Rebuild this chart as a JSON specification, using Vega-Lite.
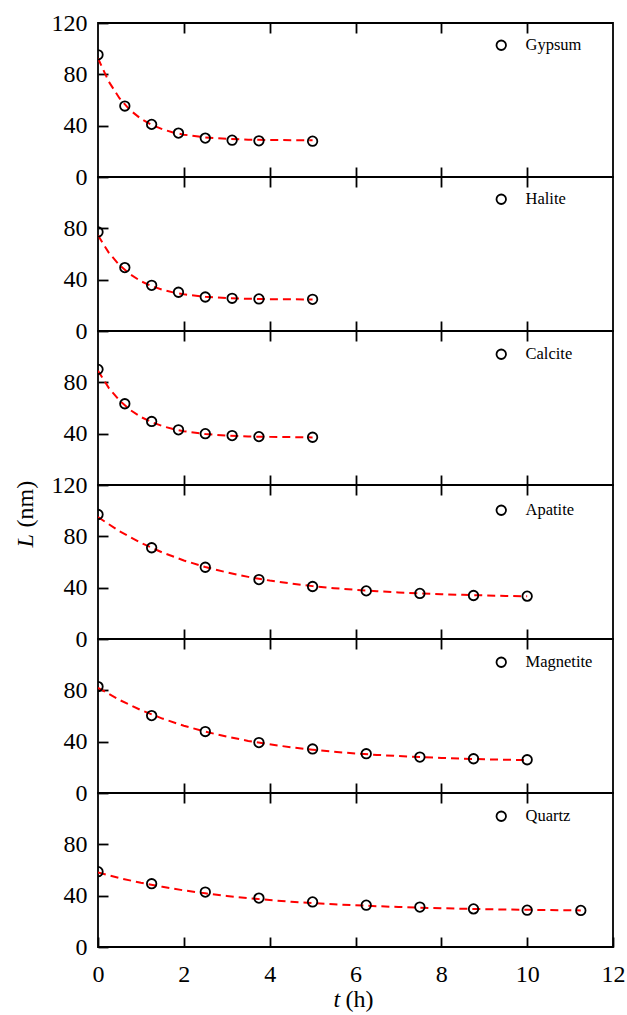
{
  "$schema": "https://vega.github.io/schema/vega-lite/v6.json",
  "autosize": {"type": "pad"},
  "padding": {"left": 12, "top": 10, "right": 0, "bottom": 0},
  "background": "white",
  "spacing": 0,
  "bounds": "flush",
  "config": {
    "view": {"stroke": "black", "strokeWidth": 1.8},
    "axis": {"grid": false, "domain": false, "tickColor": "black", "tickWidth": 1.8, "tickSize": -10,
      "labelFont": "Liberation Serif", "labelFontSize": 24, "labelColor": "black", "labelFlush": false,
      "titleFont": "Liberation Serif", "titleFontSize": 24, "titleColor": "black", "titleFontWeight": "normal"},
    "legend": {"orient": "none", "legendX": 395, "title": null, "labelFont": "Liberation Serif", "labelFontSize": 16.5,
      "labelColor": "black", "labelOffset": 16, "padding": 0, "symbolType": "circle", "symbolSize": 90,
      "symbolStrokeWidth": 1.8, "symbolStrokeColor": "black", "symbolFillColor": "transparent"}
  },
  "resolve": {"scale": {"stroke": "independent"}, "legend": {"stroke": "independent"}},
  "datasets": {
    "pts": [
      {"mineral": "Gypsum", "t": 0, "L": 95.2}, {"mineral": "Gypsum", "t": 0.625, "L": 55.3}, {"mineral": "Gypsum", "t": 1.25, "L": 41},
      {"mineral": "Gypsum", "t": 1.875, "L": 34.2}, {"mineral": "Gypsum", "t": 2.5, "L": 30.3}, {"mineral": "Gypsum", "t": 3.125, "L": 28.7},
      {"mineral": "Gypsum", "t": 3.75, "L": 28.2}, {"mineral": "Gypsum", "t": 5, "L": 27.9},
      {"mineral": "Halite", "t": 0, "L": 77.2}, {"mineral": "Halite", "t": 0.625, "L": 49.4}, {"mineral": "Halite", "t": 1.25, "L": 35.6},
      {"mineral": "Halite", "t": 1.875, "L": 30.2}, {"mineral": "Halite", "t": 2.5, "L": 26.5}, {"mineral": "Halite", "t": 3.125, "L": 25.5},
      {"mineral": "Halite", "t": 3.75, "L": 25}, {"mineral": "Halite", "t": 5, "L": 24.7},
      {"mineral": "Calcite", "t": 0, "L": 90.1}, {"mineral": "Calcite", "t": 0.625, "L": 63.3}, {"mineral": "Calcite", "t": 1.25, "L": 49.5},
      {"mineral": "Calcite", "t": 1.875, "L": 43}, {"mineral": "Calcite", "t": 2.5, "L": 40}, {"mineral": "Calcite", "t": 3.125, "L": 38.5},
      {"mineral": "Calcite", "t": 3.75, "L": 37.7}, {"mineral": "Calcite", "t": 5, "L": 37.2},
      {"mineral": "Apatite", "t": 0, "L": 97}, {"mineral": "Apatite", "t": 1.25, "L": 71.1}, {"mineral": "Apatite", "t": 2.5, "L": 55.9},
      {"mineral": "Apatite", "t": 3.75, "L": 46.3}, {"mineral": "Apatite", "t": 5, "L": 40.9}, {"mineral": "Apatite", "t": 6.25, "L": 37.5},
      {"mineral": "Apatite", "t": 7.5, "L": 35.5}, {"mineral": "Apatite", "t": 8.75, "L": 33.9}, {"mineral": "Apatite", "t": 10, "L": 33.4},
      {"mineral": "Magnetite", "t": 0, "L": 82.9}, {"mineral": "Magnetite", "t": 1.25, "L": 60.3}, {"mineral": "Magnetite", "t": 2.5, "L": 47.9},
      {"mineral": "Magnetite", "t": 3.75, "L": 39.3}, {"mineral": "Magnetite", "t": 5, "L": 34.3}, {"mineral": "Magnetite", "t": 6.25, "L": 30.6},
      {"mineral": "Magnetite", "t": 7.5, "L": 28}, {"mineral": "Magnetite", "t": 8.75, "L": 26.7}, {"mineral": "Magnetite", "t": 10, "L": 25.9},
      {"mineral": "Quartz", "t": 0, "L": 58.7}, {"mineral": "Quartz", "t": 1.25, "L": 49.3}, {"mineral": "Quartz", "t": 2.5, "L": 42.8},
      {"mineral": "Quartz", "t": 3.75, "L": 38.1}, {"mineral": "Quartz", "t": 5, "L": 35.1}, {"mineral": "Quartz", "t": 6.25, "L": 32.6},
      {"mineral": "Quartz", "t": 7.5, "L": 31.1}, {"mineral": "Quartz", "t": 8.75, "L": 29.7}, {"mineral": "Quartz", "t": 10, "L": 28.7},
      {"mineral": "Quartz", "t": 11.25, "L": 28.5}
    ],
    "fit": [
      {"mineral": "Gypsum", "t": 0, "L": 92.5}, {"mineral": "Gypsum", "t": 0.25, "L": 74.4}, {"mineral": "Gypsum", "t": 0.5, "L": 61.4},
      {"mineral": "Gypsum", "t": 0.75, "L": 52.0}, {"mineral": "Gypsum", "t": 1.0, "L": 45.4}, {"mineral": "Gypsum", "t": 1.25, "L": 40.6},
      {"mineral": "Gypsum", "t": 1.5, "L": 37.2}, {"mineral": "Gypsum", "t": 1.75, "L": 34.7}, {"mineral": "Gypsum", "t": 2.0, "L": 33.0},
      {"mineral": "Gypsum", "t": 2.5, "L": 30.8}, {"mineral": "Gypsum", "t": 3.0, "L": 29.7}, {"mineral": "Gypsum", "t": 3.5, "L": 29.1},
      {"mineral": "Gypsum", "t": 4.0, "L": 28.8}, {"mineral": "Gypsum", "t": 4.5, "L": 28.7}, {"mineral": "Gypsum", "t": 5.0, "L": 28.6},
      {"mineral": "Halite", "t": 0, "L": 74.5}, {"mineral": "Halite", "t": 0.25, "L": 61.1}, {"mineral": "Halite", "t": 0.5, "L": 51.3},
      {"mineral": "Halite", "t": 0.75, "L": 44.1}, {"mineral": "Halite", "t": 1.0, "L": 38.8}, {"mineral": "Halite", "t": 1.25, "L": 35.0},
      {"mineral": "Halite", "t": 1.5, "L": 32.2}, {"mineral": "Halite", "t": 1.75, "L": 30.1}, {"mineral": "Halite", "t": 2.0, "L": 28.6},
      {"mineral": "Halite", "t": 2.5, "L": 26.7}, {"mineral": "Halite", "t": 3.0, "L": 25.7}, {"mineral": "Halite", "t": 3.5, "L": 25.1},
      {"mineral": "Halite", "t": 4.0, "L": 24.8}, {"mineral": "Halite", "t": 4.5, "L": 24.7}, {"mineral": "Halite", "t": 5.0, "L": 24.6},
      {"mineral": "Calcite", "t": 0, "L": 89.0}, {"mineral": "Calcite", "t": 0.25, "L": 75.7}, {"mineral": "Calcite", "t": 0.5, "L": 65.9},
      {"mineral": "Calcite", "t": 0.75, "L": 58.5}, {"mineral": "Calcite", "t": 1.0, "L": 53.0}, {"mineral": "Calcite", "t": 1.25, "L": 49.0},
      {"mineral": "Calcite", "t": 1.5, "L": 45.9}, {"mineral": "Calcite", "t": 1.75, "L": 43.6}, {"mineral": "Calcite", "t": 2.0, "L": 41.9},
      {"mineral": "Calcite", "t": 2.5, "L": 39.7}, {"mineral": "Calcite", "t": 3.0, "L": 38.5}, {"mineral": "Calcite", "t": 3.5, "L": 37.8},
      {"mineral": "Calcite", "t": 4.0, "L": 37.5}, {"mineral": "Calcite", "t": 4.5, "L": 37.3}, {"mineral": "Calcite", "t": 5.0, "L": 37.1},
      {"mineral": "Apatite", "t": 0, "L": 95.0}, {"mineral": "Apatite", "t": 0.5, "L": 84.0}, {"mineral": "Apatite", "t": 1.0, "L": 74.9},
      {"mineral": "Apatite", "t": 1.5, "L": 67.4}, {"mineral": "Apatite", "t": 2.0, "L": 61.2}, {"mineral": "Apatite", "t": 2.5, "L": 56.1},
      {"mineral": "Apatite", "t": 3.0, "L": 51.9}, {"mineral": "Apatite", "t": 3.5, "L": 48.4}, {"mineral": "Apatite", "t": 4.0, "L": 45.5},
      {"mineral": "Apatite", "t": 4.5, "L": 43.2}, {"mineral": "Apatite", "t": 5.0, "L": 41.2}, {"mineral": "Apatite", "t": 5.5, "L": 39.6},
      {"mineral": "Apatite", "t": 6.0, "L": 38.3}, {"mineral": "Apatite", "t": 6.5, "L": 37.2}, {"mineral": "Apatite", "t": 7.0, "L": 36.3},
      {"mineral": "Apatite", "t": 7.5, "L": 35.5}, {"mineral": "Apatite", "t": 8.0, "L": 34.9}, {"mineral": "Apatite", "t": 8.5, "L": 34.4},
      {"mineral": "Apatite", "t": 9.0, "L": 34.0}, {"mineral": "Apatite", "t": 9.5, "L": 33.6}, {"mineral": "Apatite", "t": 10.0, "L": 33.3},
      {"mineral": "Magnetite", "t": 0, "L": 82.0}, {"mineral": "Magnetite", "t": 0.5, "L": 72.5}, {"mineral": "Magnetite", "t": 1.0, "L": 64.6},
      {"mineral": "Magnetite", "t": 1.5, "L": 58.0}, {"mineral": "Magnetite", "t": 2.0, "L": 52.4}, {"mineral": "Magnetite", "t": 2.5, "L": 47.8},
      {"mineral": "Magnetite", "t": 3.0, "L": 43.9}, {"mineral": "Magnetite", "t": 3.5, "L": 40.6}, {"mineral": "Magnetite", "t": 4.0, "L": 37.9},
      {"mineral": "Magnetite", "t": 4.5, "L": 35.6}, {"mineral": "Magnetite", "t": 5.0, "L": 33.7}, {"mineral": "Magnetite", "t": 5.5, "L": 32.1},
      {"mineral": "Magnetite", "t": 6.0, "L": 30.8}, {"mineral": "Magnetite", "t": 6.5, "L": 29.7}, {"mineral": "Magnetite", "t": 7.0, "L": 28.8},
      {"mineral": "Magnetite", "t": 7.5, "L": 28.0}, {"mineral": "Magnetite", "t": 8.0, "L": 27.3}, {"mineral": "Magnetite", "t": 8.5, "L": 26.8},
      {"mineral": "Magnetite", "t": 9.0, "L": 26.3}, {"mineral": "Magnetite", "t": 9.5, "L": 25.9}, {"mineral": "Magnetite", "t": 10.0, "L": 25.6},
      {"mineral": "Quartz", "t": 0, "L": 58.0}, {"mineral": "Quartz", "t": 0.5, "L": 53.7}, {"mineral": "Quartz", "t": 1.0, "L": 50.0},
      {"mineral": "Quartz", "t": 1.5, "L": 46.9}, {"mineral": "Quartz", "t": 2.0, "L": 44.1}, {"mineral": "Quartz", "t": 2.5, "L": 41.8},
      {"mineral": "Quartz", "t": 3.0, "L": 39.8}, {"mineral": "Quartz", "t": 3.5, "L": 38.1}, {"mineral": "Quartz", "t": 4.0, "L": 36.6},
      {"mineral": "Quartz", "t": 4.5, "L": 35.3}, {"mineral": "Quartz", "t": 5.0, "L": 34.2}, {"mineral": "Quartz", "t": 5.5, "L": 33.3},
      {"mineral": "Quartz", "t": 6.0, "L": 32.5}, {"mineral": "Quartz", "t": 6.5, "L": 31.8}, {"mineral": "Quartz", "t": 7.0, "L": 31.2},
      {"mineral": "Quartz", "t": 7.5, "L": 30.6}, {"mineral": "Quartz", "t": 8.0, "L": 30.2}, {"mineral": "Quartz", "t": 8.5, "L": 29.8},
      {"mineral": "Quartz", "t": 9.0, "L": 29.5}, {"mineral": "Quartz", "t": 9.5, "L": 29.2}, {"mineral": "Quartz", "t": 10.0, "L": 29.0},
      {"mineral": "Quartz", "t": 10.5, "L": 28.8}, {"mineral": "Quartz", "t": 11.0, "L": 28.6}, {"mineral": "Quartz", "t": 11.25, "L": 28.5}
    ]
  },
  "vconcat": [
    {
      "width": 515, "height": 154,
      "resolve": {"axis": {"x": "independent"}},
      "layer": [
        {"data": {"name": "fit"}, "transform": [{"filter": "datum.mineral === 'Gypsum'"}],
         "mark": {"type": "line", "color": "#ff0000", "strokeDash": [8, 5], "strokeWidth": 2, "clip": true},
         "encoding": {
           "x": {"field": "t", "type": "quantitative", "scale": {"domain": [0, 12]}, "axis": {"orient": "bottom", "values": [2, 4, 6, 8, 10], "labels": false, "title": null}},
           "y": {"field": "L", "type": "quantitative", "scale": {"domain": [0, 120]}, "axis": {"orient": "left", "values": [0, 40, 80, 120], "labelPadding": 21, "title": null}}}},
        {"data": {"name": "pts"}, "transform": [{"filter": "datum.mineral === 'Gypsum'"}],
         "mark": {"type": "point", "shape": "circle", "filled": false, "size": 90, "strokeWidth": 1.8, "opacity": 1, "clip": true},
         "encoding": {
           "x": {"field": "t", "type": "quantitative", "scale": {"domain": [0, 12]}, "axis": {"orient": "top", "values": [2, 4, 6, 8, 10], "labels": false, "title": null}},
           "y": {"field": "L", "type": "quantitative", "scale": {"domain": [0, 120]}},
           "stroke": {"field": "mineral", "type": "nominal", "scale": {"range": ["black"]}, "legend": {"legendY": 14}}}}
      ]
    },
    {
      "width": 515, "height": 154,
      "resolve": {"axis": {"x": "independent"}},
      "layer": [
        {"data": {"name": "fit"}, "transform": [{"filter": "datum.mineral === 'Halite'"}],
         "mark": {"type": "line", "color": "#ff0000", "strokeDash": [8, 5], "strokeWidth": 2, "clip": true},
         "encoding": {
           "x": {"field": "t", "type": "quantitative", "scale": {"domain": [0, 12]}, "axis": {"orient": "bottom", "values": [2, 4, 6, 8, 10], "labels": false, "title": null}},
           "y": {"field": "L", "type": "quantitative", "scale": {"domain": [0, 120]}, "axis": {"orient": "left", "values": [0, 40, 80], "labelPadding": 21, "title": null}}}},
        {"data": {"name": "pts"}, "transform": [{"filter": "datum.mineral === 'Halite'"}],
         "mark": {"type": "point", "shape": "circle", "filled": false, "size": 90, "strokeWidth": 1.8, "opacity": 1, "clip": true},
         "encoding": {
           "x": {"field": "t", "type": "quantitative", "scale": {"domain": [0, 12]}, "axis": {"orient": "top", "values": [2, 4, 6, 8, 10], "labels": false, "title": null}},
           "y": {"field": "L", "type": "quantitative", "scale": {"domain": [0, 120]}},
           "stroke": {"field": "mineral", "type": "nominal", "scale": {"range": ["black"]}, "legend": {"legendY": 14}}}}
      ]
    },
    {
      "width": 515, "height": 154,
      "resolve": {"axis": {"x": "independent"}},
      "layer": [
        {"data": {"name": "fit"}, "transform": [{"filter": "datum.mineral === 'Calcite'"}],
         "mark": {"type": "line", "color": "#ff0000", "strokeDash": [8, 5], "strokeWidth": 2, "clip": true},
         "encoding": {
           "x": {"field": "t", "type": "quantitative", "scale": {"domain": [0, 12]}, "axis": {"orient": "bottom", "values": [2, 4, 6, 8, 10], "labels": false, "title": null}},
           "y": {"field": "L", "type": "quantitative", "scale": {"domain": [0, 120]}, "axis": {"orient": "left", "values": [40, 80], "labelPadding": 21,
             "title": "(nm)", "titleAngle": -90, "titleAlign": "left", "titleBaseline": "alphabetic", "titleX": -66, "titleY": 196}}}},
        {"data": {"name": "pts"}, "transform": [{"filter": "datum.mineral === 'Calcite'"}],
         "mark": {"type": "point", "shape": "circle", "filled": false, "size": 90, "strokeWidth": 1.8, "opacity": 1, "clip": true},
         "encoding": {
           "x": {"field": "t", "type": "quantitative", "scale": {"domain": [0, 12]}, "axis": {"orient": "top", "values": [2, 4, 6, 8, 10], "labels": false, "title": null}},
           "y": {"field": "L", "type": "quantitative", "scale": {"domain": [0, 120]}},
           "stroke": {"field": "mineral", "type": "nominal", "scale": {"range": ["black"]}, "legend": {"legendY": 15}}}}
      ]
    },
    {
      "width": 515, "height": 154,
      "resolve": {"axis": {"x": "independent"}},
      "layer": [
        {"data": {"name": "fit"}, "transform": [{"filter": "datum.mineral === 'Apatite'"}],
         "mark": {"type": "line", "color": "#ff0000", "strokeDash": [8, 5], "strokeWidth": 2, "clip": true},
         "encoding": {
           "x": {"field": "t", "type": "quantitative", "scale": {"domain": [0, 12]}, "axis": {"orient": "bottom", "values": [2, 4, 6, 8, 10], "labels": false, "title": null}},
           "y": {"field": "L", "type": "quantitative", "scale": {"domain": [0, 120]}, "axis": {"orient": "left", "values": [0, 40, 80, 120], "labelPadding": 21,
             "title": "L", "titleFontStyle": "italic", "titleAngle": -90, "titleAlign": "left", "titleBaseline": "alphabetic", "titleX": -66, "titleY": 62}}}},
        {"data": {"name": "pts"}, "transform": [{"filter": "datum.mineral === 'Apatite'"}],
         "mark": {"type": "point", "shape": "circle", "filled": false, "size": 90, "strokeWidth": 1.8, "opacity": 1, "clip": true},
         "encoding": {
           "x": {"field": "t", "type": "quantitative", "scale": {"domain": [0, 12]}, "axis": {"orient": "top", "values": [2, 4, 6, 8, 10], "labels": false, "title": null}},
           "y": {"field": "L", "type": "quantitative", "scale": {"domain": [0, 120]}},
           "stroke": {"field": "mineral", "type": "nominal", "scale": {"range": ["black"]}, "legend": {"legendY": 17}}}}
      ]
    },
    {
      "width": 515, "height": 154,
      "resolve": {"axis": {"x": "independent"}},
      "layer": [
        {"data": {"name": "fit"}, "transform": [{"filter": "datum.mineral === 'Magnetite'"}],
         "mark": {"type": "line", "color": "#ff0000", "strokeDash": [8, 5], "strokeWidth": 2, "clip": true},
         "encoding": {
           "x": {"field": "t", "type": "quantitative", "scale": {"domain": [0, 12]}, "axis": {"orient": "bottom", "values": [2, 4, 6, 8, 10], "labels": false, "title": null}},
           "y": {"field": "L", "type": "quantitative", "scale": {"domain": [0, 120]}, "axis": {"orient": "left", "values": [0, 40, 80], "labelPadding": 21, "title": null}}}},
        {"data": {"name": "pts"}, "transform": [{"filter": "datum.mineral === 'Magnetite'"}],
         "mark": {"type": "point", "shape": "circle", "filled": false, "size": 90, "strokeWidth": 1.8, "opacity": 1, "clip": true},
         "encoding": {
           "x": {"field": "t", "type": "quantitative", "scale": {"domain": [0, 12]}, "axis": {"orient": "top", "values": [2, 4, 6, 8, 10], "labels": false, "title": null}},
           "y": {"field": "L", "type": "quantitative", "scale": {"domain": [0, 120]}},
           "stroke": {"field": "mineral", "type": "nominal", "scale": {"range": ["black"]}, "legend": {"legendY": 15}}}}
      ]
    },
    {
      "width": 515, "height": 154,
      "resolve": {"axis": {"x": "independent"}},
      "layer": [
        {"data": {"name": "fit"}, "transform": [{"filter": "datum.mineral === 'Quartz'"}],
         "mark": {"type": "line", "color": "#ff0000", "strokeDash": [8, 5], "strokeWidth": 2, "clip": true},
         "encoding": {
           "x": {"field": "t", "type": "quantitative", "scale": {"domain": [0, 12]}, "axis": {"orient": "bottom", "values": [0, 2, 4, 6, 8, 10, 12], "labelPadding": 25,
             "title": "t", "titleFontStyle": "italic", "titleAlign": "left", "titleBaseline": "alphabetic", "titleX": 235, "titleY": 59}},
           "y": {"field": "L", "type": "quantitative", "scale": {"domain": [0, 120]}, "axis": {"orient": "left", "values": [0, 40, 80], "labelPadding": 21, "title": null}}}},
        {"data": {"name": "pts"}, "transform": [{"filter": "datum.mineral === 'Quartz'"}],
         "mark": {"type": "point", "shape": "circle", "filled": false, "size": 90, "strokeWidth": 1.8, "opacity": 1, "clip": true},
         "encoding": {
           "x": {"field": "t", "type": "quantitative", "scale": {"domain": [0, 12]}, "axis": {"orient": "top", "values": [2, 4, 6, 8, 10], "labels": false,
             "title": "(h)", "titleAlign": "left", "titleBaseline": "alphabetic", "titleX": 247, "titleY": 213.3}},
           "y": {"field": "L", "type": "quantitative", "scale": {"domain": [0, 120]}},
           "stroke": {"field": "mineral", "type": "nominal", "scale": {"range": ["black"]}, "legend": {"legendY": 15}}}}
      ]
    }
  ]
}
